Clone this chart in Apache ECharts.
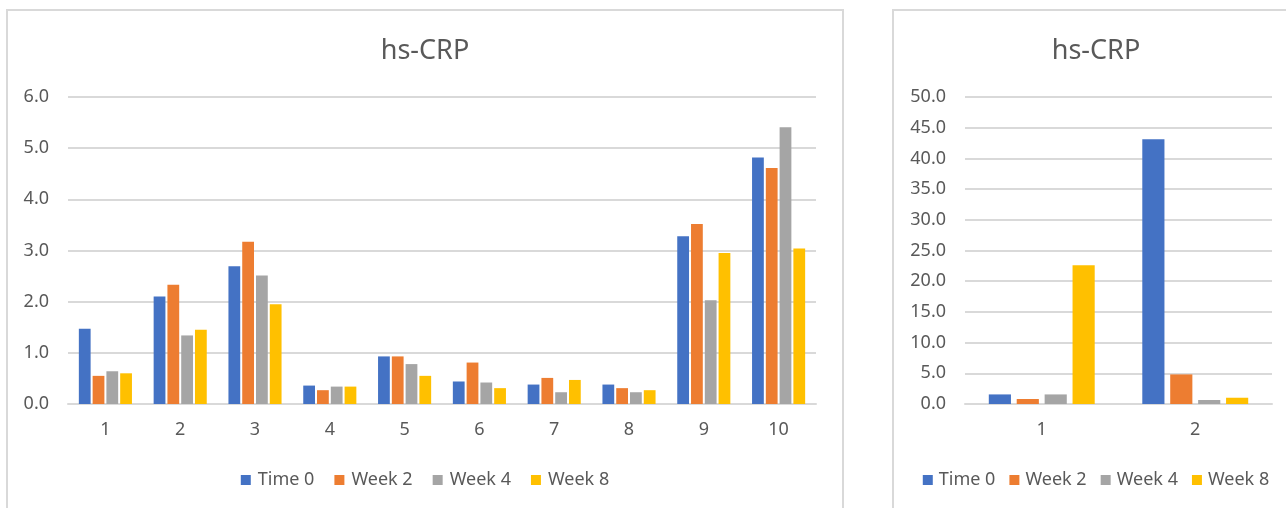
<!DOCTYPE html>
<html>
<head>
<meta charset="utf-8">
<script src="https://cdn.jsdelivr.net/npm/echarts@6/dist/echarts.min.js"></script>
<style>
    html, body { margin: 0; padding: 0; background: #fff; overflow: hidden; }
    body { width: 1286px; height: 508px; position: relative; }
    .frame { position: absolute; border: 2px solid #d9d9d9; background: #fff; }
    .frame div { width: 100%; height: 100%; }
</style>
</head>
<body>
<div class="frame" style="left:6px; top:9px; width:834px; height:520px;"><div id="left"></div></div>
<div class="frame" style="left:892px; top:9px; width:404px; height:520px;"><div id="right"></div></div>
<script>
var seriesNames = ['Time 0', 'Week 2', 'Week 4', 'Week 8'];
var colors = ['#4472C4', '#ED7D31', '#A5A5A5', '#FFC000'];

// left chart: patients 1-10
var leftCategories = ['1', '2', '3', '4', '5', '6', '7', '8', '9', '10'];
var leftTime0 = [1.47, 2.10, 2.69, 0.36, 0.93, 0.44, 0.38, 0.38, 3.28, 4.82];
var leftWeek2 = [0.55, 2.33, 3.17, 0.27, 0.93, 0.81, 0.51, 0.31, 3.52, 4.61];
var leftWeek4 = [0.64, 1.34, 2.51, 0.34, 0.78, 0.42, 0.23, 0.23, 2.03, 5.41];
var leftWeek8 = [0.60, 1.45, 1.95, 0.34, 0.55, 0.31, 0.47, 0.27, 2.95, 3.04];

// right chart: two outliers
var rightCategories = ['1', '2'];
var rightTime0 = [1.56, 43.1];
var rightWeek2 = [0.81, 4.82];
var rightWeek4 = [1.56, 0.65];
var rightWeek8 = [22.6, 1.02];

var textColor = '#595959';
var font = 'Noto Sans';

function makeOption(cats, data, yMax, yStep, gridLeft, gridWidth, catGap, barGap, legendGap, legendPad) {
    var series = [];
    for (var i = 0; i < seriesNames.length; i++) {
        series.push({
            name: seriesNames[i],
            type: 'bar',
            data: data[i],
            itemStyle: { color: colors[i] },
            barCategoryGap: catGap,
            barGap: barGap
        });
    }
    return {
        animation: false,
        textStyle: { fontFamily: font },
        title: {
            text: 'hs-CRP',
            left: 'center',
            top: 22,
            textStyle: { fontFamily: font, fontSize: 27, fontWeight: 'normal', color: textColor }
        },
        legend: {
            data: seriesNames,
            left: 'center',
            top: 455,
            itemWidth: 10,
            itemHeight: 10,
            itemGap: legendGap,
            icon: 'rect',
            textStyle: { fontFamily: font, fontSize: 18, color: textColor, padding: [0, 0, 0, legendPad] }
        },
        grid: { left: gridLeft, top: 86, width: gridWidth, height: 307, containLabel: false },
        xAxis: {
            type: 'category',
            data: cats,
            axisLine: { lineStyle: { color: '#d9d9d9', width: 2 } },
            axisTick: { show: false },
            axisLabel: { color: textColor, fontSize: 18, margin: 17 }
        },
        yAxis: {
            type: 'value',
            min: 0,
            max: yMax,
            interval: yStep,
            axisLine: { show: false },
            axisTick: { show: false },
            splitLine: { lineStyle: { color: '#d9d9d9', width: 2 } },
            axisLabel: {
                color: textColor,
                fontSize: 18,
                margin: 19,
                formatter: function (v) { return v.toFixed(1); }
            }
        },
        series: series
    };
}

var leftChart = echarts.init(document.getElementById('left'));
leftChart.setOption(makeOption(leftCategories,
    [leftTime0, leftWeek2, leftWeek4, leftWeek8], 6, 1, 60, 748, '29%', '17%', 20, 2));

var rightChart = echarts.init(document.getElementById('right'));
rightChart.setOption(makeOption(rightCategories,
    [rightTime0, rightWeek2, rightWeek4, rightWeek8], 50, 5, 71, 307, '31%', '26%', 14, 1));
</script>
</body>
</html>
